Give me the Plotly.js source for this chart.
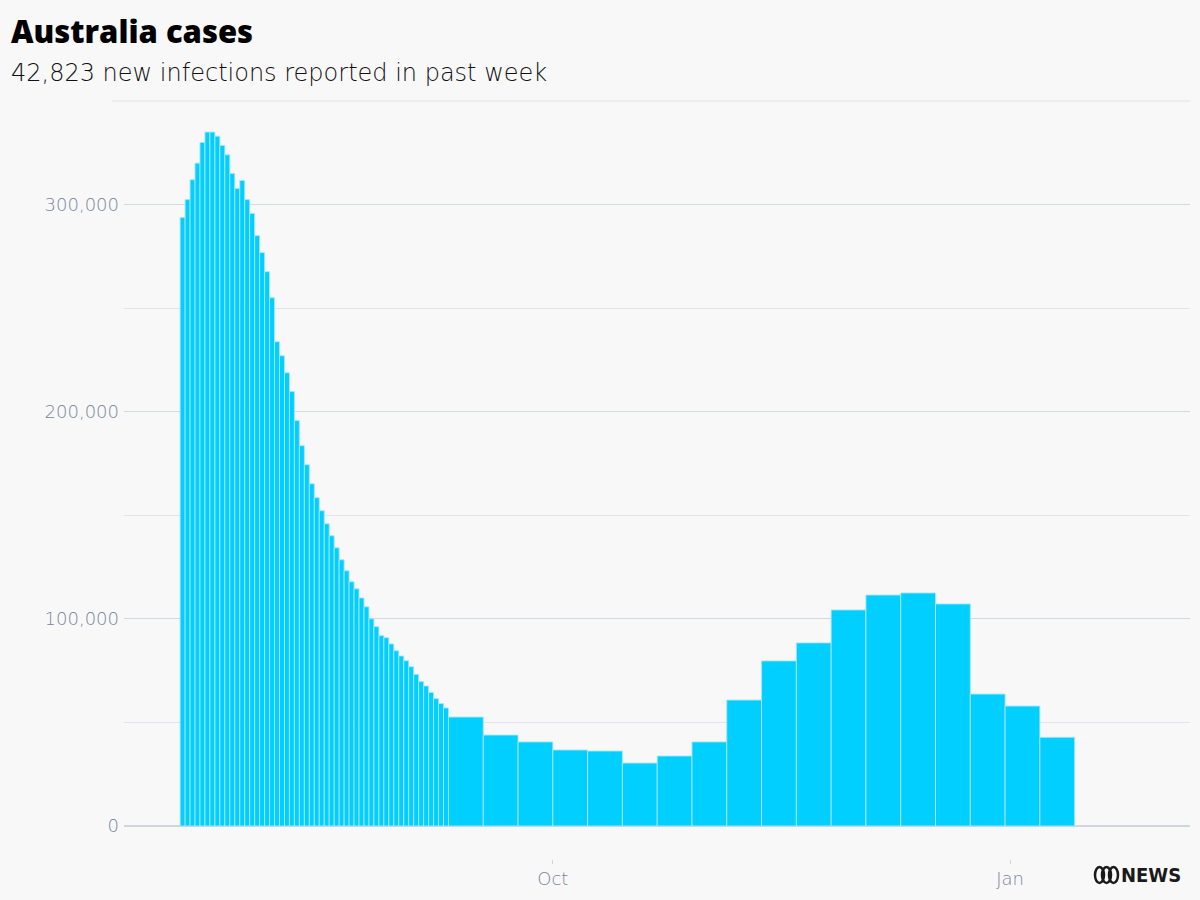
<!DOCTYPE html>
<html>
<head>
<meta charset="utf-8">
<script src="https://cdn.plot.ly/plotly-3.0.1.min.js"></script>
<style>
html,body{margin:0;padding:0;background:#f8f8f9;}
#chart{width:1200px;height:900px;}
</style>
</head>
<body>
<div id="chart"></div>
<script>
// ---- Data ----
const dailyDates = [
  "2022-07-18","2022-07-19","2022-07-20","2022-07-21","2022-07-22","2022-07-23","2022-07-24",
  "2022-07-25","2022-07-26","2022-07-27","2022-07-28","2022-07-29","2022-07-30","2022-07-31",
  "2022-08-01","2022-08-02","2022-08-03","2022-08-04","2022-08-05","2022-08-06","2022-08-07",
  "2022-08-08","2022-08-09","2022-08-10","2022-08-11","2022-08-12","2022-08-13","2022-08-14",
  "2022-08-15","2022-08-16","2022-08-17","2022-08-18","2022-08-19","2022-08-20","2022-08-21",
  "2022-08-22","2022-08-23","2022-08-24","2022-08-25","2022-08-26","2022-08-27","2022-08-28",
  "2022-08-29","2022-08-30","2022-08-31","2022-09-01","2022-09-02","2022-09-03","2022-09-04",
  "2022-09-05","2022-09-06","2022-09-07","2022-09-08","2022-09-09"
];
const dailyCases = [
  293700, 302400, 312000, 320000, 330000, 335000, 335000, 333000, 328500, 324000,
  315000, 307700, 311600, 302400, 295700, 285000, 276800, 267600, 255000, 233800,
  227000, 218800, 209700, 195700, 183600, 174400, 165200, 158500, 152200, 145900,
  140100, 134300, 128500, 123200, 117900, 114500, 110100, 105800, 100000, 96200,
  91900, 90900, 87900, 84600, 82100, 79800, 76900, 73200, 69700, 67600,
  64500, 61500, 59100, 57000
];
const weeklyDates = [
  "2022-09-10","2022-09-17","2022-09-24","2022-10-01","2022-10-08","2022-10-15",
  "2022-10-22","2022-10-29","2022-11-05","2022-11-12","2022-11-19","2022-11-26",
  "2022-12-03","2022-12-10","2022-12-17","2022-12-24","2022-12-31","2023-01-07"
];
const weeklyCases = [
  52600, 43900, 40600, 36700, 36200, 30400, 33800, 40600, 60800, 79700,
  88400, 104300, 111500, 112500, 107200, 63700, 57900, 42823
];
const xTickVals = ["2022-10-01","2023-01-01"];
const xTickText = ["Oct","Jan"];
const yTickVals = [0, 100000, 200000, 300000];
const yTickText = ["0","100,000","200,000","300,000"];
const titleText = "Australia cases";
const subtitleText = "42,823 new infections reported in past week";

// ---- Layout helpers (pixel -> paper) ----
const L = 124, R = 10, T = 101, B = 41, W = 1200, H = 900;
const pw = W - L - R, ph = H - T - B;
const px = x => (x - L) / pw;
const py = y => (H - B - y) / ph;

const DAY = 86400000;
const barColor = "#00cfff";
const barLine = {color: "rgba(170,228,248,0.9)", width: 1};

const traces = [
  {type: "bar", x: dailyDates, y: dailyCases, offset: 0, width: DAY,
   marker: {color: barColor, line: barLine}, hoverinfo: "x+y"},
  {type: "bar", x: weeklyDates, y: weeklyCases, offset: 0, width: 7 * DAY,
   marker: {color: barColor, line: barLine}, hoverinfo: "x+y"}
];

const tickFont = {family: "DejaVu Sans, Open Sans, sans-serif", size: 18, color: "#7a8499", weight: 200};

const layout = {
  width: W, height: H,
  margin: {l: L, r: R, t: T, b: B, pad: 0},
  paper_bgcolor: "#f8f8f9",
  plot_bgcolor: "#f8f8f9",
  showlegend: false,
  barmode: "overlay",
  xaxis: {
    type: "date",
    range: ["2022-07-06 17:00", "2023-02-06 05:00"],
    tickvals: xTickVals, ticktext: xTickText,
    ticks: "outside", ticklen: 4, tickwidth: 1, tickcolor: "#cfd5df",
    showgrid: false, zeroline: false, showline: false,
    tickfont: tickFont,
    ticklabelstandoff: -1
  },
  yaxis: {
    range: [-15931, 350000],
    tickvals: yTickVals, ticktext: yTickText,
    ticks: "", showline: false,
    showgrid: true, gridcolor: "#d3d8e2", gridwidth: 1,
    zeroline: true, zerolinecolor: "#d0d6e0", zerolinewidth: 2,
    tickfont: tickFont,
    ticklabelstandoff: 4,
    minor: {tickvals: [50000, 150000, 250000], showgrid: true, gridcolor: "#e1e4ea", gridwidth: 1, ticks: ""}
  },
  shapes: [
    {type: "line", xref: "paper", yref: "paper", x0: px(112), x1: px(1190), y0: 1, y1: 1,
     line: {color: "#dde1e8", width: 1}},
    // ABC logo loops
    {type: "circle", xref: "paper", yref: "paper", x0: px(1095), x1: px(1104), y0: py(883), y1: py(867),
     line: {color: "#1a1a1a", width: 2.5}},
    {type: "circle", xref: "paper", yref: "paper", x0: px(1102), x1: px(1111), y0: py(883), y1: py(867),
     line: {color: "#1a1a1a", width: 2.5}},
    {type: "circle", xref: "paper", yref: "paper", x0: px(1109), x1: px(1118), y0: py(883), y1: py(867),
     line: {color: "#1a1a1a", width: 2.5}}
  ],
  annotations: [
    {text: titleText, xref: "paper", yref: "paper", x: px(9), y: py(31), xanchor: "left", yanchor: "middle",
     showarrow: false, font: {family: "Open Sans, Roboto, sans-serif", size: 31, color: "#000", weight: 800}},
    {text: subtitleText, xref: "paper", yref: "paper", x: px(9), y: py(73), xanchor: "left", yanchor: "middle",
     showarrow: false, font: {family: "DejaVu Sans, Open Sans, sans-serif", size: 24, color: "#111", weight: 200}},
    {text: "NEWS", xref: "paper", yref: "paper", x: px(1119), y: py(875), xanchor: "left", yanchor: "middle",
     showarrow: false, font: {family: "Liberation Sans Narrow, DejaVu Sans Condensed, Roboto, sans-serif", size: 20, color: "#1a1a1a", weight: 700}}
  ]
};

Plotly.newPlot("chart", traces, layout, {displayModeBar: false, staticPlot: true});
</script>
</body>
</html>
